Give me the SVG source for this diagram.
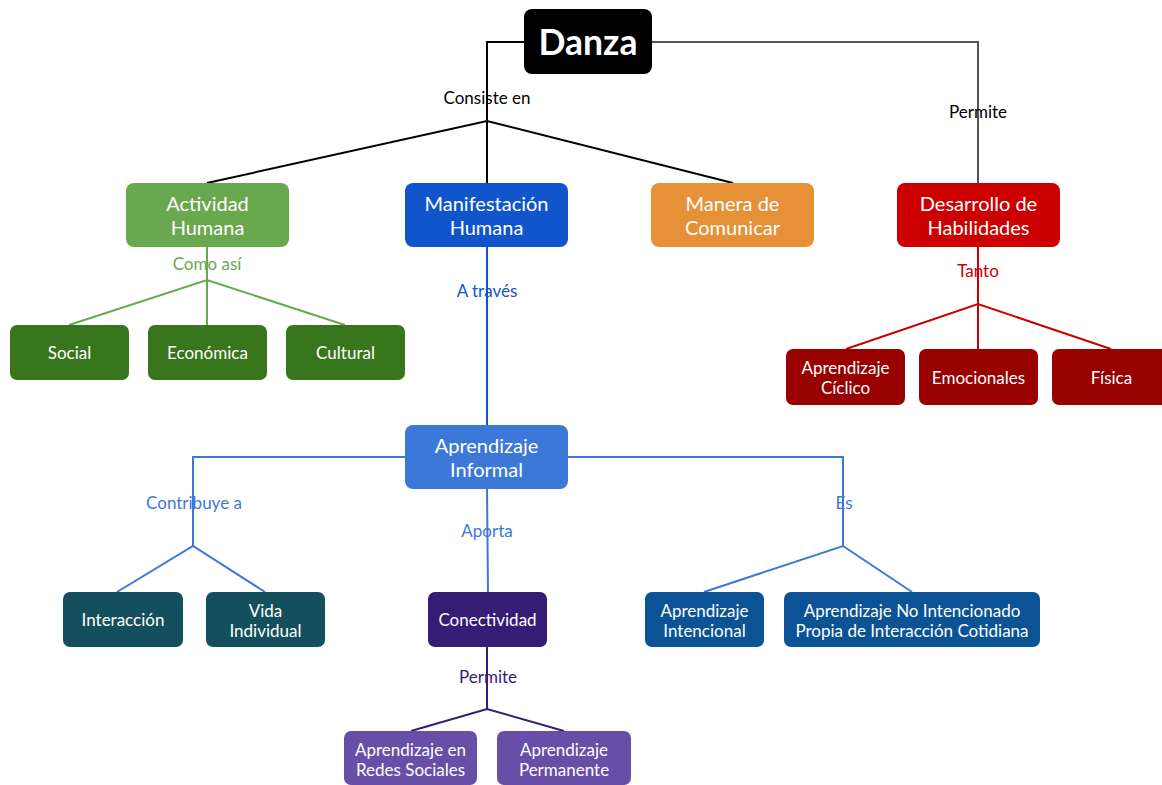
<svg xmlns="http://www.w3.org/2000/svg" width="1162" height="785" viewBox="0 0 1162 785">
<style>
text{font-family:Lato,"Liberation Sans",sans-serif;text-anchor:middle}
.n{fill:#fff;font-size:20px}
.s{fill:#fff;font-size:17px}
.l{font-size:17px}
.c{fill:none;stroke-width:2}
</style>
<rect width="1162" height="785" fill="#fff"/>
<g id="connectors">
<polyline class="c" stroke="#000" points="524,42 487,42 487,121"/>
<polyline class="c" stroke="#000" points="207,183 487,121 733,183"/>
<line class="c" stroke="#000" x1="487" y1="121" x2="487" y2="183"/>
<polyline class="c" stroke="#555" stroke-width="1.5" points="652,42 978,42 978,183"/>
<line class="c" stroke="#6aa84f" x1="207" y1="247" x2="207" y2="325"/>
<polyline class="c" stroke="#6aa84f" points="69,325 207,280 345,325"/>
<line class="c" stroke="#1155cc" x1="487" y1="247" x2="487" y2="425"/>
<polyline class="c" stroke="#cc0000" points="978,247 978,349"/>
<polyline class="c" stroke="#cc0000" points="846,349 978,304 1111,349"/>
<polyline class="c" stroke="#3c78d8" points="405,457 193,457 193,546"/>
<polyline class="c" stroke="#3c78d8" points="117,592 193,546 265,592"/>
<line class="c" stroke="#3c78d8" x1="487" y1="489" x2="488" y2="592"/>
<polyline class="c" stroke="#3c78d8" points="568,457 843,457 843,546"/>
<polyline class="c" stroke="#3c78d8" points="704,592 843,546 912,592"/>
<line class="c" stroke="#351c75" x1="487" y1="647" x2="487" y2="709"/>
<polyline class="c" stroke="#351c75" points="411,731 487,709 564,731"/>
</g>
<g id="labels">
<text class="l" x="487" y="104" fill="#000">Consiste en</text>
<text class="l" x="978" y="118" fill="#000">Permite</text>
<text class="l" x="207" y="270" fill="#6aa84f">Como así</text>
<text class="l" x="487" y="297" fill="#1155cc">A través</text>
<text class="l" x="978" y="277" fill="#cc0000">Tanto</text>
<text class="l" x="194" y="509" fill="#3c78d8">Contribuye a</text>
<text class="l" x="487" y="537" fill="#3c78d8">Aporta</text>
<text class="l" x="844" y="509" fill="#3c78d8">Es</text>
<text class="l" x="488" y="683" fill="#351c75">Permite</text>
</g>
<g id="danza"><rect x="524" y="9" width="128" height="65" rx="8" fill="#000"/><text x="588" y="55" fill="#fff" font-size="35.5" font-weight="bold">Danza</text></g>
<g id="actividad"><rect x="126" y="183" width="163" height="64" rx="8" fill="#6aa84f"/><text class="n" x="207.5" y="211">Actividad</text><text class="n" x="207.5" y="235">Humana</text></g>
<g id="manifestacion"><rect x="405" y="183" width="163" height="64" rx="8" fill="#1155cc"/><text class="n" x="486.5" y="211">Manifestación</text><text class="n" x="486.5" y="235">Humana</text></g>
<g id="manera"><rect x="651" y="183" width="163" height="64" rx="8" fill="#e69138"/><text class="n" x="732.5" y="211">Manera de</text><text class="n" x="732.5" y="235">Comunicar</text></g>
<g id="desarrollo"><rect x="897" y="183" width="163" height="64" rx="8" fill="#cc0000"/><text class="n" x="978.5" y="211">Desarrollo de</text><text class="n" x="978.5" y="235">Habilidades</text></g>
<g id="social"><rect x="10" y="325" width="119" height="55" rx="7" fill="#38761d"/><text class="s" x="69.5" y="359">Social</text></g>
<g id="economica"><rect x="148" y="325" width="119" height="55" rx="7" fill="#38761d"/><text class="s" x="207.5" y="359">Económica</text></g>
<g id="cultural"><rect x="286" y="325" width="119" height="55" rx="7" fill="#38761d"/><text class="s" x="345.5" y="359">Cultural</text></g>
<g id="ciclico"><rect x="786" y="349" width="119" height="56" rx="7" fill="#990000"/><text class="s" x="845.5" y="374">Aprendizaje</text><text class="s" x="845.5" y="394">Cíclico</text></g>
<g id="emocionales"><rect x="919" y="349" width="119" height="56" rx="7" fill="#990000"/><text class="s" x="978.5" y="384">Emocionales</text></g>
<g id="fisica"><rect x="1052" y="349" width="119" height="56" rx="7" fill="#990000"/><text class="s" x="1111.5" y="384">Física</text></g>
<g id="informal"><rect x="405" y="425" width="163" height="64" rx="8" fill="#3c78d8"/><text class="n" x="486.5" y="453">Aprendizaje</text><text class="n" x="486.5" y="477">Informal</text></g>
<g id="interaccion"><rect x="63" y="592" width="120" height="55" rx="7" fill="#134f5c"/><text class="s" x="123" y="626">Interacción</text></g>
<g id="vida"><rect x="206" y="592" width="119" height="55" rx="7" fill="#134f5c"/><text class="s" x="265.5" y="617">Vida</text><text class="s" x="265.5" y="637">Individual</text></g>
<g id="conectividad"><rect x="428" y="592" width="119" height="55" rx="7" fill="#351c75"/><text class="s" x="487.5" y="626">Conectividad</text></g>
<g id="intencional"><rect x="645" y="592" width="119" height="55" rx="7" fill="#0b5394"/><text class="s" x="704.5" y="617">Aprendizaje</text><text class="s" x="704.5" y="637">Intencional</text></g>
<g id="nointencionado"><rect x="784" y="592" width="256" height="55" rx="7" fill="#0b5394"/><text class="s" x="912" y="617">Aprendizaje No Intencionado</text><text class="s" x="912" y="637">Propia de Interacción Cotidiana</text></g>
<g id="redes"><rect x="344" y="731" width="133" height="54" rx="7" fill="#674ea7"/><text class="s" x="410.5" y="756">Aprendizaje en</text><text class="s" x="410.5" y="776">Redes Sociales</text></g>
<g id="permanente"><rect x="497" y="731" width="134" height="54" rx="7" fill="#674ea7"/><text class="s" x="564" y="756">Aprendizaje</text><text class="s" x="564" y="776">Permanente</text></g>
</svg>
